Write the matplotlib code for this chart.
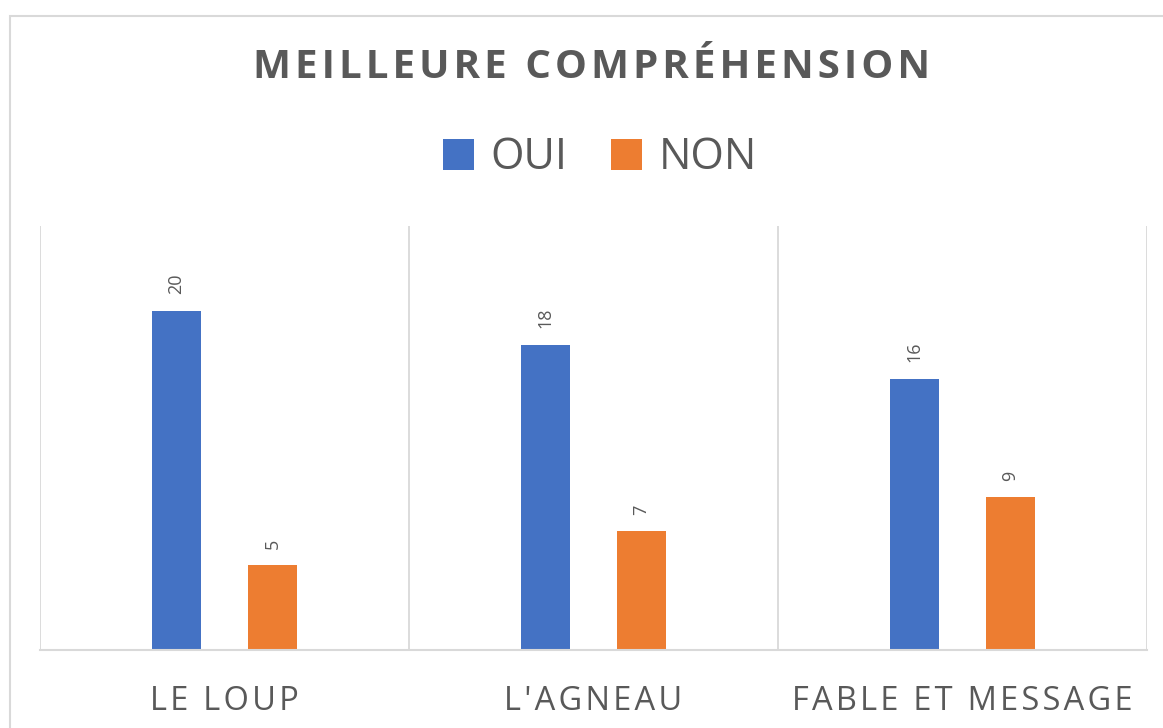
"""
meilleure comprehension - bar chart OUI / NON
"""

import matplotlib
matplotlib.use('Agg')
import matplotlib.pyplot as plt
from matplotlib.patches import Rectangle
import numpy as np

# data
categories = ["LE LOUP", "L'AGNEAU", "FABLE ET MESSAGE"]
oui = [20, 18, 16]
non = [5, 7, 9]
series_names = ['OUI', 'NON']
ptitle = 'MEILLEURE COMPRÉHENSION'

# style
blue = '#4472C4'
orange = '#ED7D31'
txtgray = '#595959'
gridgray = '#D9D9D9'
fam = ['Open Sans', 'DejaVu Sans']


def spaced(s, sep='\u200a'):
    '''put a hair space between letters, poor man's letter spacing'''
    return sep.join(list(s))


fig = plt.figure(figsize=(11.63, 7.28), dpi=100)
fig.patch.set_facecolor('white')

# outer chart border (runs off the right and bottom of the picture)
fig.patches.append(Rectangle((10/1163, -0.05), 1.2, (728-16)/728 + 0.05,
                             transform=fig.transFigure, fill=False,
                             edgecolor=gridgray, linewidth=1.5))

ax = fig.add_axes([40/1163, 78/728, 1107/1163, 424/728])
x = np.arange(len(categories))
w = 0.135
off = 0.13
b1 = ax.bar(x - off, oui, width=w, color=blue, label=series_names[0])
b2 = ax.bar(x + off, non, width=w, color=orange, label=series_names[1])

ax.set_xlim(-0.5, len(categories) - 0.5)
ax.set_ylim(0, 25)

# category separators
for xv in np.arange(-0.5, len(categories), 1.0):
    ax.axvline(xv, color=gridgray, lw=1.3, zorder=0)

for sp in ['top', 'right', 'left']:
    ax.spines[sp].set_visible(False)
ax.spines['bottom'].set_color(gridgray)
ax.spines['bottom'].set_linewidth(1.5)
ax.set_yticks([])
ax.set_xticks(x)
ax.set_xticklabels([spaced(c) for c in categories], family=fam,
                   fontsize=23.5, color=txtgray)
ax.tick_params(axis='x', length=0, pad=25)

# data labels
for bars in (b1, b2):
    for rect in bars:
        h = rect.get_height()
        ax.annotate(str(int(h)), (rect.get_x() + rect.get_width()/2, h),
                    xytext=(0, 12), textcoords='offset points',
                    rotation=90, ha='center', va='bottom',
                    fontsize=13, color=txtgray, family=fam)

fig.text(592/1163, 1 - 67/728, spaced(ptitle), ha='center', va='center',
         fontsize=29, fontweight='bold', color=txtgray, family=fam)

leg = fig.legend(loc='center', bbox_to_anchor=(600/1163, 1 - 158/728),
                 ncol=2, frameon=False, prop={'family': fam, 'size': 31},
                 handlelength=0.72, handleheight=0.72, handletextpad=0.4,
                 columnspacing=1.0)
for t in leg.get_texts():
    t.set_color(txtgray)

fig.savefig('out.png', dpi=100, facecolor='white')
